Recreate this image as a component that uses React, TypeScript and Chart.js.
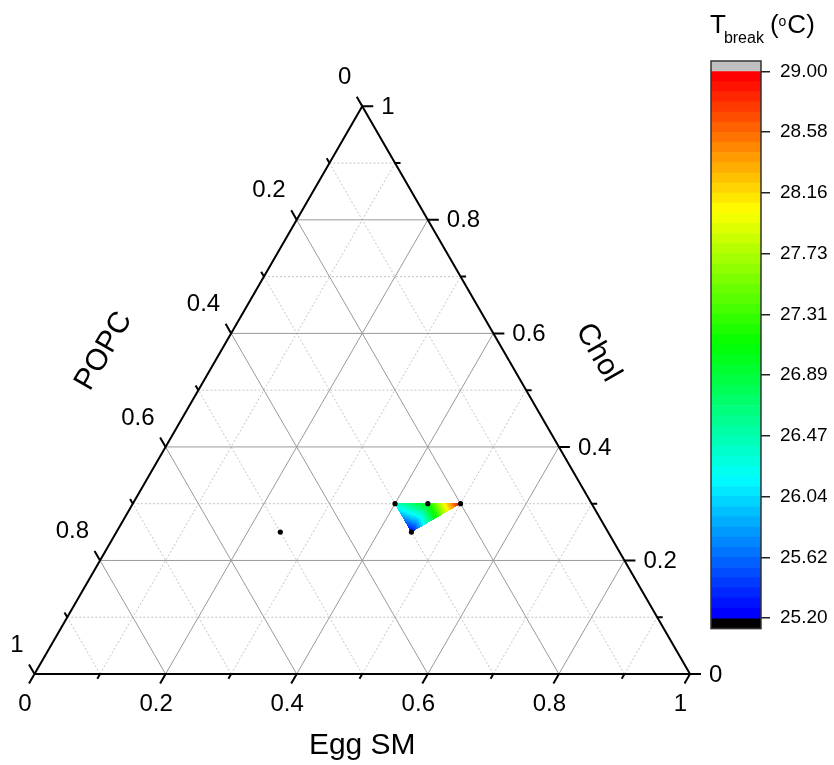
import React, { useEffect, useRef } from 'react';
import { Chart, registerables } from 'chart.js';
Chart.register(...registerables);

// ---- data (ternary composition: Egg SM, Chol, POPC) ----
const EGG_SM = [0.40, 0.45, 0.50, 0.45, 0.25];
const CHOL = [0.30, 0.30, 0.30, 0.25, 0.25];
const POPC = [0.30, 0.25, 0.20, 0.30, 0.50];
const T_BREAK: (number | null)[] = [26.35, 27.05, 29.0, 25.2, null];
const SURFACE_TRIANGLES = [[0, 1, 3], [1, 2, 3]];

const AXIS_TICKS = [0, 0.2, 0.4, 0.6, 0.8, 1];
const AXIS_TICK_LABELS = ['0', '0.2', '0.4', '0.6', '0.8', '1'];
const MINOR_TICKS = [0.1, 0.3, 0.5, 0.7, 0.9];
const MAJOR_GRID = [0.2, 0.4, 0.6, 0.8];
const MINOR_GRID = [0.1, 0.3, 0.5, 0.7, 0.9];

const CB_MIN = 25.2;
const CB_MAX = 29.0;
const CB_LEVELS = 54;
const CB_EXT = 0.073;
const CB_TICK_VALUES = [25.2, 25.622, 26.044, 26.467, 26.889, 27.311, 27.733, 28.156, 28.578, 29.0];
const CB_TICK_LABELS = ['25.20', '25.62', '26.04', '26.47', '26.89', '27.31', '27.73', '28.16', '28.58', '29.00'];

// ---- layout ----
const W = 834;
const H = 765;
const X0 = 34.5;
const YB = 674;
const SIDE = 655.5;
const SQ3 = Math.sqrt(3);
const FONT = '"Liberation Sans", Arial, sans-serif';
const TICK_FONT = 24;
const TITLE_FONT = 30;

const GAP = { x: NaN, y: NaN };
function toXY(sm: number, chol: number) {
  return { x: sm + chol / 2, y: (chol * SQ3) / 2 };
}

function gridSegments(levels: number[]) {
  const d: any[] = [];
  for (const k of levels) {
    d.push(toXY(k, 0), toXY(k, 1 - k), GAP);
    d.push(toXY(0, k), toXY(1 - k, k), GAP);
    d.push(toXY(1 - k, 0), toXY(0, 1 - k), GAP);
  }
  return d;
}

function tickSegments(values: number[], len: number) {
  const d: any[] = [];
  const L = len / SIDE;
  for (const t of values) {
    let p = toXY(t, 0);
    d.push(p, { x: p.x - 0.5 * L, y: p.y - (SQ3 / 2) * L }, GAP);
    p = toXY(1 - t, t);
    d.push(p, { x: p.x + L, y: p.y }, GAP);
    p = toXY(0, 1 - t);
    d.push(p, { x: p.x - 0.5 * L, y: p.y + (SQ3 / 2) * L }, GAP);
  }
  return d;
}

function rainbow(f: number) {
  f = Math.max(0, Math.min(1, f));
  let r = 0, g = 0, b = 0;
  if (f < 0.25) { r = 0; g = (255 * f) / 0.25; b = 255; }
  else if (f < 0.5) { r = 0; g = 255; b = 255 * (1 - (f - 0.25) / 0.25); }
  else if (f < 0.75) { r = (255 * (f - 0.5)) / 0.25; g = 255; b = 0; }
  else { r = 255; g = 255 * (1 - (f - 0.75) / 0.25); b = 0; }
  return `rgb(${Math.round(r)},${Math.round(g)},${Math.round(b)})`;
}
function levelColor(i: number) {
  return rainbow(i / (CB_LEVELS - 1));
}
function valueColor(v: number) {
  const step = (CB_MAX - CB_MIN) / CB_LEVELS;
  let i = Math.floor((v - CB_MIN) / step);
  i = Math.max(0, Math.min(CB_LEVELS - 1, i));
  return levelColor(i);
}

const surfacePlugin = {
  id: 'surface',
  beforeDatasetDraw(chart: any, args: any) {
    if (args.index !== 0) return;
    const { ctx } = chart;
    const xs = chart.scales.x;
    const ys = chart.scales.y;
    const pts = EGG_SM.map((s, i) => {
      const p = toXY(s, CHOL[i]);
      return { x: xs.getPixelForValue(p.x), y: ys.getPixelForValue(p.y) };
    });
    ctx.save();
    for (const tri of SURFACE_TRIANGLES) {
      const [a, b, c] = tri.map((i) => pts[i]);
      const [va, vb, vc] = tri.map((i) => T_BREAK[i] as number);
      const det = (b.y - c.y) * (a.x - c.x) + (c.x - b.x) * (a.y - c.y);
      const minx = Math.floor(Math.min(a.x, b.x, c.x));
      const maxx = Math.ceil(Math.max(a.x, b.x, c.x));
      const miny = Math.floor(Math.min(a.y, b.y, c.y));
      const maxy = Math.ceil(Math.max(a.y, b.y, c.y));
      const eps = 0.015;
      for (let py = miny; py <= maxy; py++) {
        for (let px = minx; px <= maxx; px++) {
          const cx = px + 0.5;
          const cy = py + 0.5;
          const l1 = ((b.y - c.y) * (cx - c.x) + (c.x - b.x) * (cy - c.y)) / det;
          const l2 = ((c.y - a.y) * (cx - c.x) + (a.x - c.x) * (cy - c.y)) / det;
          const l3 = 1 - l1 - l2;
          if (l1 < -eps || l2 < -eps || l3 < -eps) continue;
          const v = l1 * va + l2 * vb + l3 * vc;
          ctx.fillStyle = valueColor(v);
          ctx.fillRect(px, py, 1, 1);
        }
      }
    }
    ctx.restore();
  },
};

const labelsPlugin = {
  id: 'ternaryLabels',
  afterDraw(chart: any) {
    const { ctx } = chart;
    const xs = chart.scales.x;
    const ys = chart.scales.y;
    const P = (p: { x: number; y: number }) => [xs.getPixelForValue(p.x), ys.getPixelForValue(p.y)];
    ctx.save();
    ctx.fillStyle = '#000';
    ctx.font = `${TICK_FONT}px ${FONT}`;
    ctx.textBaseline = 'middle';
    AXIS_TICKS.forEach((t, i) => {
      const lab = AXIS_TICK_LABELS[i];
      let [px, py] = P(toXY(t, 0));
      ctx.textAlign = 'center';
      ctx.fillText(lab, px - 9.5, py + 30);
      [px, py] = P(toXY(1 - t, t));
      ctx.textAlign = 'left';
      ctx.fillText(lab, px + 19, py + 1);
      [px, py] = P(toXY(0, 1 - t));
      ctx.textAlign = 'right';
      ctx.fillText(lab, px - 11, py - 29);
    });
    ctx.font = `${TITLE_FONT}px ${FONT}`;
    ctx.textAlign = 'center';
    let [mx, my] = P(toXY(0.5, 0));
    ctx.fillText('Egg SM', mx, my + 72);
    [mx, my] = P(toXY(0, 0.5));
    ctx.save();
    ctx.translate(mx - 94.5, my - 39);
    ctx.rotate(-Math.PI / 3);
    ctx.fillText('POPC', 0, 0);
    ctx.restore();
    [mx, my] = P(toXY(0.5, 0.5));
    ctx.save();
    ctx.translate(mx + 72, my - 37.5);
    ctx.rotate(Math.PI / 3);
    ctx.fillText('Chol', 0, 0);
    ctx.restore();
    ctx.restore();
  },
};

const cbPlugin = {
  id: 'cbDecor',
  afterDatasetsDraw(chart: any) {
    const { ctx, chartArea } = chart;
    ctx.save();
    ctx.strokeStyle = '#333';
    ctx.lineWidth = 1.5;
    ctx.strokeRect(chartArea.left, chartArea.top, chartArea.right - chartArea.left, chartArea.bottom - chartArea.top);
    ctx.restore();
  },
  afterDraw(chart: any) {
    const { ctx, chartArea } = chart;
    ctx.save();
    ctx.fillStyle = '#000';
    ctx.textBaseline = 'alphabetic';
    ctx.textAlign = 'left';
    let x = chartArea.left - 1;
    const base = chartArea.top - 28;
    ctx.font = `26px ${FONT}`;
    ctx.fillText('T', x, base);
    x += ctx.measureText('T').width - 2;
    ctx.font = `16px ${FONT}`;
    ctx.fillText('break', x, base + 10);
    x += ctx.measureText('break').width + 6;
    ctx.font = `26px ${FONT}`;
    ctx.fillText('(', x, base);
    x += ctx.measureText('(').width;
    ctx.font = `14px ${FONT}`;
    ctx.fillText('o', x, base - 7);
    x += ctx.measureText('o').width + 1;
    ctx.font = `26px ${FONT}`;
    ctx.fillText('C)', x, base);
    ctx.restore();
  },
};

export default function App() {
  const mainRef = useRef<HTMLCanvasElement>(null);
  const cbRef = useRef<HTMLCanvasElement>(null);

  useEffect(() => {
    Chart.defaults.font.family = FONT;
    const points = EGG_SM.map((s, i) => toXY(s, CHOL[i]));
    void POPC;
    const border = [toXY(0, 0), toXY(1, 0), toXY(0, 1), toXY(0, 0)];
    const lineBase = { showLine: true, pointRadius: 0, fill: false, tension: 0, spanGaps: false };
    const main = new Chart(mainRef.current as HTMLCanvasElement, {
      type: 'scatter',
      data: {
        datasets: [
          { data: points, pointRadius: 2.6, pointBackgroundColor: '#000', pointBorderWidth: 0, showLine: false } as any,
          { ...lineBase, data: tickSegments(AXIS_TICKS, 11), borderColor: '#000', borderWidth: 2 } as any,
          { ...lineBase, data: tickSegments(MINOR_TICKS, 5.5), borderColor: '#000', borderWidth: 2 } as any,
          { ...lineBase, data: border, borderColor: '#000', borderWidth: 2, borderJoinStyle: 'miter' } as any,
          { ...lineBase, data: gridSegments(MAJOR_GRID), borderColor: '#999', borderWidth: 1 } as any,
          { ...lineBase, data: gridSegments(MINOR_GRID), borderColor: '#c4c4c4', borderWidth: 1, borderDash: [2, 2] } as any,
        ],
      },
      options: {
        responsive: false,
        maintainAspectRatio: false,
        animation: false,
        events: [],
        layout: { padding: 0, autoPadding: false },
        plugins: { legend: { display: false }, tooltip: { enabled: false } },
        scales: {
          x: { type: 'linear', display: false, min: -X0 / SIDE, max: (W - X0) / SIDE },
          y: { type: 'linear', display: false, min: (YB - H) / SIDE, max: YB / SIDE },
        },
      },
      plugins: [surfacePlugin, labelsPlugin],
    } as any);

    const step = (CB_MAX - CB_MIN) / CB_LEVELS;
    const bandSets: any[] = [];
    for (let i = 0; i < CB_LEVELS; i++) {
      bandSets.push({
        data: [[CB_MIN + i * step, CB_MIN + (i + 1) * step]],
        backgroundColor: levelColor(i),
        borderWidth: 0,
        grouped: false,
        barPercentage: 1,
        categoryPercentage: 1,
      });
    }
    bandSets.push({ data: [[CB_MAX, CB_MAX + CB_EXT]], backgroundColor: '#c0c0c0', borderWidth: 0, grouped: false, barPercentage: 1, categoryPercentage: 1 });
    bandSets.push({ data: [[CB_MIN - CB_EXT, CB_MIN]], backgroundColor: '#000', borderWidth: 0, grouped: false, barPercentage: 1, categoryPercentage: 1 });

    const cb = new Chart(cbRef.current as HTMLCanvasElement, {
      type: 'bar',
      data: { labels: [''], datasets: bandSets },
      options: {
        responsive: false,
        maintainAspectRatio: false,
        animation: false,
        events: [],
        layout: { padding: { left: 11, top: 61, bottom: 20, right: 0 }, autoPadding: false },
        plugins: { legend: { display: false }, tooltip: { enabled: false } },
        scales: {
          x: { type: 'category', display: false },
          y: {
            type: 'linear',
            position: 'right',
            min: CB_MIN - CB_EXT,
            max: CB_MAX + CB_EXT,
            afterBuildTicks: (s: any) => {
              s.ticks = CB_TICK_VALUES.map((v) => ({ value: v }));
            },
            afterFit: (s: any) => {
              s.width = 73;
            },
            grid: { drawOnChartArea: false, drawTicks: true, tickLength: 9, color: '#222', lineWidth: 1.5 },
            border: { display: false },
            ticks: {
              autoSkip: false,
              padding: 10,
              color: '#000',
              font: { size: 19, family: FONT },
              callback: (_v: any, idx: number) => CB_TICK_LABELS[idx],
            },
          },
        },
      },
      plugins: [cbPlugin],
    } as any);

    return () => {
      main.destroy();
      cb.destroy();
    };
  }, []);

  return (
    <div style={{ position: 'fixed', left: 0, top: 0, width: W, height: H, background: '#fff' }}>
      <canvas ref={mainRef} width={W} height={H} style={{ position: 'absolute', left: 0, top: 0, width: W, height: H }} />
      <canvas ref={cbRef} width={134} height={650} style={{ position: 'absolute', left: 700, top: 0, width: 134, height: 650 }} />
    </div>
  );
}
